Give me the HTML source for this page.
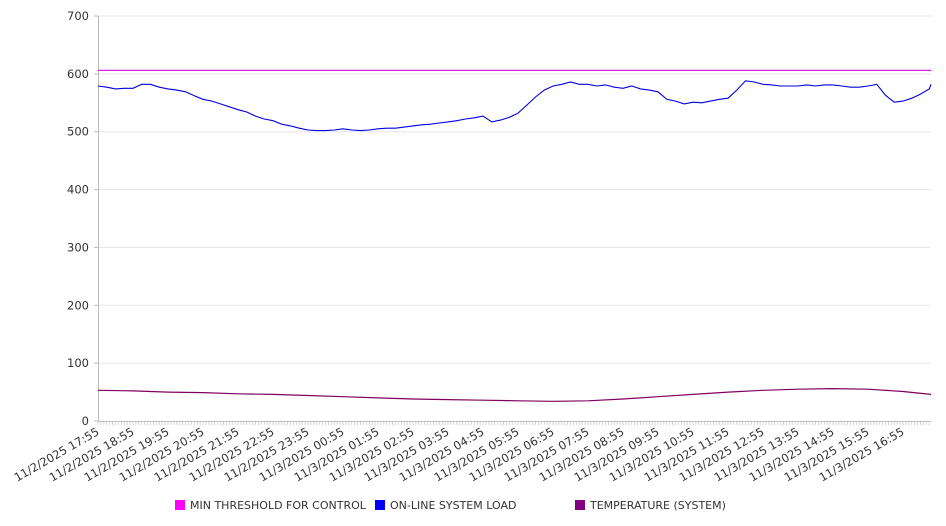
<!DOCTYPE html>
<html><head><meta charset="utf-8">
<style>
html,body{margin:0;padding:0;background:#fff;}
svg{display:block;font-family:"DejaVu Sans","Liberation Sans",sans-serif;}
</style></head>
<body>
<svg id="chart" width="946" height="526" xmlns="http://www.w3.org/2000/svg">
<g id="grid"></g>
<g id="yaxis"></g>
<g id="xaxis"></g>
<g id="series"></g>
<g id="legend">
  <rect x="175" y="500" width="10" height="10" fill="#ff00ff"/>
  <text x="190" y="509" font-size="11" fill="#333">MIN THRESHOLD FOR CONTROL</text>
  <rect x="375" y="500" width="10" height="10" fill="#0000ff"/>
  <text x="390" y="509" font-size="11" fill="#333">ON-LINE SYSTEM LOAD</text>
  <rect x="575" y="500" width="10" height="10" fill="#800080"/>
  <text x="590" y="509" font-size="11" fill="#333">TEMPERATURE (SYSTEM)</text>
</g>
</svg>
<script>
const yTicks = [0,100,200,300,400,500,600,700];
const xLabels = ["11/2/2025 17:55","11/2/2025 18:55","11/2/2025 19:55","11/2/2025 20:55","11/2/2025 21:55","11/2/2025 22:55","11/2/2025 23:55","11/3/2025 00:55","11/3/2025 01:55","11/3/2025 02:55","11/3/2025 03:55","11/3/2025 04:55","11/3/2025 05:55","11/3/2025 06:55","11/3/2025 07:55","11/3/2025 08:55","11/3/2025 09:55","11/3/2025 10:55","11/3/2025 11:55","11/3/2025 12:55","11/3/2025 13:55","11/3/2025 14:55","11/3/2025 15:55","11/3/2025 16:55"];
const thresholdValue = 606;
// on-line system load, 15-minute samples from 17:55
const loadValues = [579,577,574,575,575,582,582,577,574,572,569,562,556,553,548,543,538,534,527,522,519,513,510,506,503,502,502,503,505,503,502,503,505,506,506,508,510,512,513,515,517,519,522,524,527,517,520,525,532,546,560,572,579,582,586,582,582,579,581,577,575,579,574,572,569,556,553,548,551,550,553,556,558,572,588,586,582,581,579,579,579,581,579,581,581,579,577,577,579,582,563,551,553,558,565,574,582];
// temperature, hourly samples from 17:55
const tempValues = [53,52,50,49,47,46,44,42,40,38,37,36,35,34,35,38,42,46,50,53,55,56,55,51,46];

const NS="http://www.w3.org/2000/svg";
const X0=98, X1=931, Y0=421, Y1=16, HOUR=35, YMAX=700;
const yScale=v=>Y0-(v/YMAX)*(Y0-Y1);
const xHour=h=>X0+h*HOUR;
function mk(tag,attrs,parent){const e=document.createElementNS(NS,tag);for(const k in attrs)e.setAttribute(k,attrs[k]);parent.appendChild(e);return e;}
const grid=document.getElementById('grid'),ya=document.getElementById('yaxis'),xa=document.getElementById('xaxis'),se=document.getElementById('series');

yTicks.forEach(t=>{
  const y=yScale(t);
  if(t>0){const g=mk('line',{x1:X0,x2:X1,y1:y,y2:y,stroke:'#e6e6e6','stroke-width':1},grid);
  
  }
  const tk=mk('line',{x1:X0-4,x2:X0,y1:y,y2:y,stroke:'#bbb'},ya);
  
  
  const tx=mk('text',{x:89,y:y+4,'text-anchor':'end','font-size':11.5,fill:'#333'},ya);
  tx.textContent=t;
  
  
});
const yl=mk('line',{x1:X0+0.5,x2:X0+0.5,y1:Y1,y2:Y0,stroke:'#bbb'},ya);


const xl=mk('line',{x1:X0,x2:X1,y1:Y0+0.5,y2:Y0+0.5,stroke:'#bbb'},xa);


for(let x=X0;x<=X1;x+=HOUR/12){
  const m=mk('line',{x1:x,x2:x,y1:Y0,y2:Y0+4,stroke:'#ccc','stroke-width':0.8},xa);
  
  
}
xLabels.forEach((lab,i)=>{
  const x=xHour(i)+2, y=Y0+13;
  const t=mk('text',{x:x,y:y,'text-anchor':'end','font-size':11.5,fill:'#333',transform:`rotate(-30 ${x} ${y})`},xa);
  t.textContent=lab;
  
  
});

const th=mk('line',{x1:X0,x2:X1,y1:yScale(thresholdValue),y2:yScale(thresholdValue),stroke:'#e020e0','stroke-width':1.2},se);



const step=HOUR/4;
const lp=loadValues.map((v,i)=>`${Math.min(X1,X0+i*step).toFixed(1)},${yScale(v).toFixed(1)}`).join(' ');
const ll=mk('polyline',{points:lp,fill:'none',stroke:'#0000e0','stroke-width':1.1},se);



const tp=tempValues.map((v,i)=>`${Math.min(X1,xHour(i)).toFixed(1)},${yScale(v).toFixed(1)}`).join(' ');
const tl=mk('polyline',{points:tp,fill:'none',stroke:'#800060','stroke-width':1.2},se);


</script>
</body></html>
